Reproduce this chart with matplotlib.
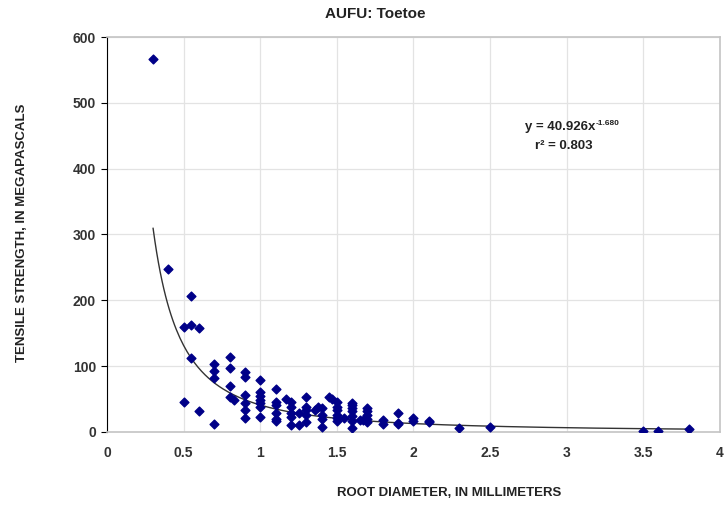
import numpy as np
import matplotlib
matplotlib.use("Agg")
import matplotlib.pyplot as plt

plt.rcParams['font.family'] = ['Liberation Sans', 'DejaVu Sans']

# root diameter (mm) and tensile strength (MPa)
diameter = [0.3, 0.4, 0.55, 0.5, 0.55, 0.6, 0.55, 0.5, 0.6, 0.7,
            0.7, 0.7, 0.7,
            0.8, 0.8, 0.8, 0.8, 0.83,
            0.9, 0.9, 0.9, 0.9, 0.9, 0.9,
            1.0, 1.0, 1.0, 1.0, 1.0, 1.0, 1.0,
            1.1, 1.1, 1.1, 1.1, 1.1, 1.1,
            1.17, 1.2, 1.2, 1.2, 1.2, 1.2, 1.25, 1.25,
            1.3, 1.3, 1.3, 1.3, 1.3,
            1.36, 1.38, 1.4, 1.4, 1.4, 1.4,
            1.45, 1.47, 1.5, 1.5, 1.5, 1.5, 1.5, 1.5, 1.55,
            1.6, 1.6, 1.6, 1.6, 1.6, 1.6, 1.6, 1.65, 1.67,
            1.7, 1.7, 1.7, 1.7, 1.7,
            1.8, 1.8, 1.9, 1.9, 1.9,
            2.0, 2.0, 2.1, 2.1,
            2.3, 2.5, 3.5, 3.6, 3.8]
strength = [566, 248, 207, 160, 163, 158, 113, 45, 32, 12,
            103, 93, 82,
            114, 97, 70, 53, 49,
            91, 84, 56, 44, 34, 21,
            79, 60, 55, 49, 44, 38, 23,
            65, 46, 41, 29, 20, 16,
            50, 46, 38, 29, 23, 11, 29, 11,
            53, 38, 33, 26, 15,
            33, 38, 36, 26, 20, 8,
            53, 50, 46, 38, 33, 26, 21, 17, 21,
            44, 41, 36, 32, 24, 17, 6, 18, 18,
            36, 32, 26, 20, 15,
            18, 12, 29, 14, 12,
            21, 16, 15, 16,
            6, 8, 2, 2, 4]

# power trendline reported on the chart
fit_a = 40.926
fit_b = -1.680
fit_x = np.linspace(0.3, 3.8, 300)
fit_y = fit_a * fit_x ** fit_b

fig = plt.figure(figsize=(7.24, 5.07), dpi=100)
ax = fig.add_axes([0.148, 0.148, 0.846, 0.779])

ax.plot(fit_x, fit_y, color="#333333", linewidth=1.0, zorder=2)
ax.scatter(diameter, strength, marker="D", s=20, color="#000088", zorder=3)

ax.set_xlim(0, 4)
ax.set_ylim(0, 600)
ax.set_xticks(np.arange(0, 4.01, 0.5))
ax.set_xticklabels(["0", "0.5", "1", "1.5", "2", "2.5", "3", "3.5", "4"])
ax.set_yticks(range(0, 601, 100))
ax.grid(True, color="#e3e3e3", linewidth=0.9, zorder=0)
ax.set_axisbelow(True)

for s in ["top", "right", "bottom"]:
    ax.spines[s].set_color("#c4c4c4")
    ax.spines[s].set_linewidth(1.2)
ax.spines["left"].set_color("black")
ax.tick_params(axis="x", length=0, pad=10)
ax.tick_params(axis="y", length=4, color="black", pad=4)
for lab in ax.get_xticklabels() + ax.get_yticklabels():
    lab.set_fontweight("bold")
    lab.set_fontsize(10)
    lab.set_color("#333333")

eq = ax.text(2.96, 463, "y = 40.926x", ha="center", va="center",
             fontsize=9.5, fontweight="bold", color="#222222")
ax.annotate("-1.680", xy=(1.0, 0.8), xycoords=eq, ha="left", va="center",
            fontsize=6, fontweight="bold", color="#222222")
ax.text(2.98, 435, "r² = 0.803", ha="center", va="center",
        fontsize=9.5, fontweight="bold", color="#222222")

fig.text(0.518, 0.972, "AUFU: Toetoe", ha="center", va="center",
         fontsize=11, fontweight="bold", color="#222222")
fig.text(0.62, 0.027, "ROOT DIAMETER, IN MILLIMETERS", ha="center", va="center",
         fontsize=9.5, fontweight="bold", color="#222222")
fig.text(0.03, 0.54, "TENSILE STRENGTH, IN MEGAPASCALS", ha="center", va="center",
         rotation=90, fontsize=9.5, fontweight="bold", color="#222222")

fig.savefig("out.png", dpi=100)
